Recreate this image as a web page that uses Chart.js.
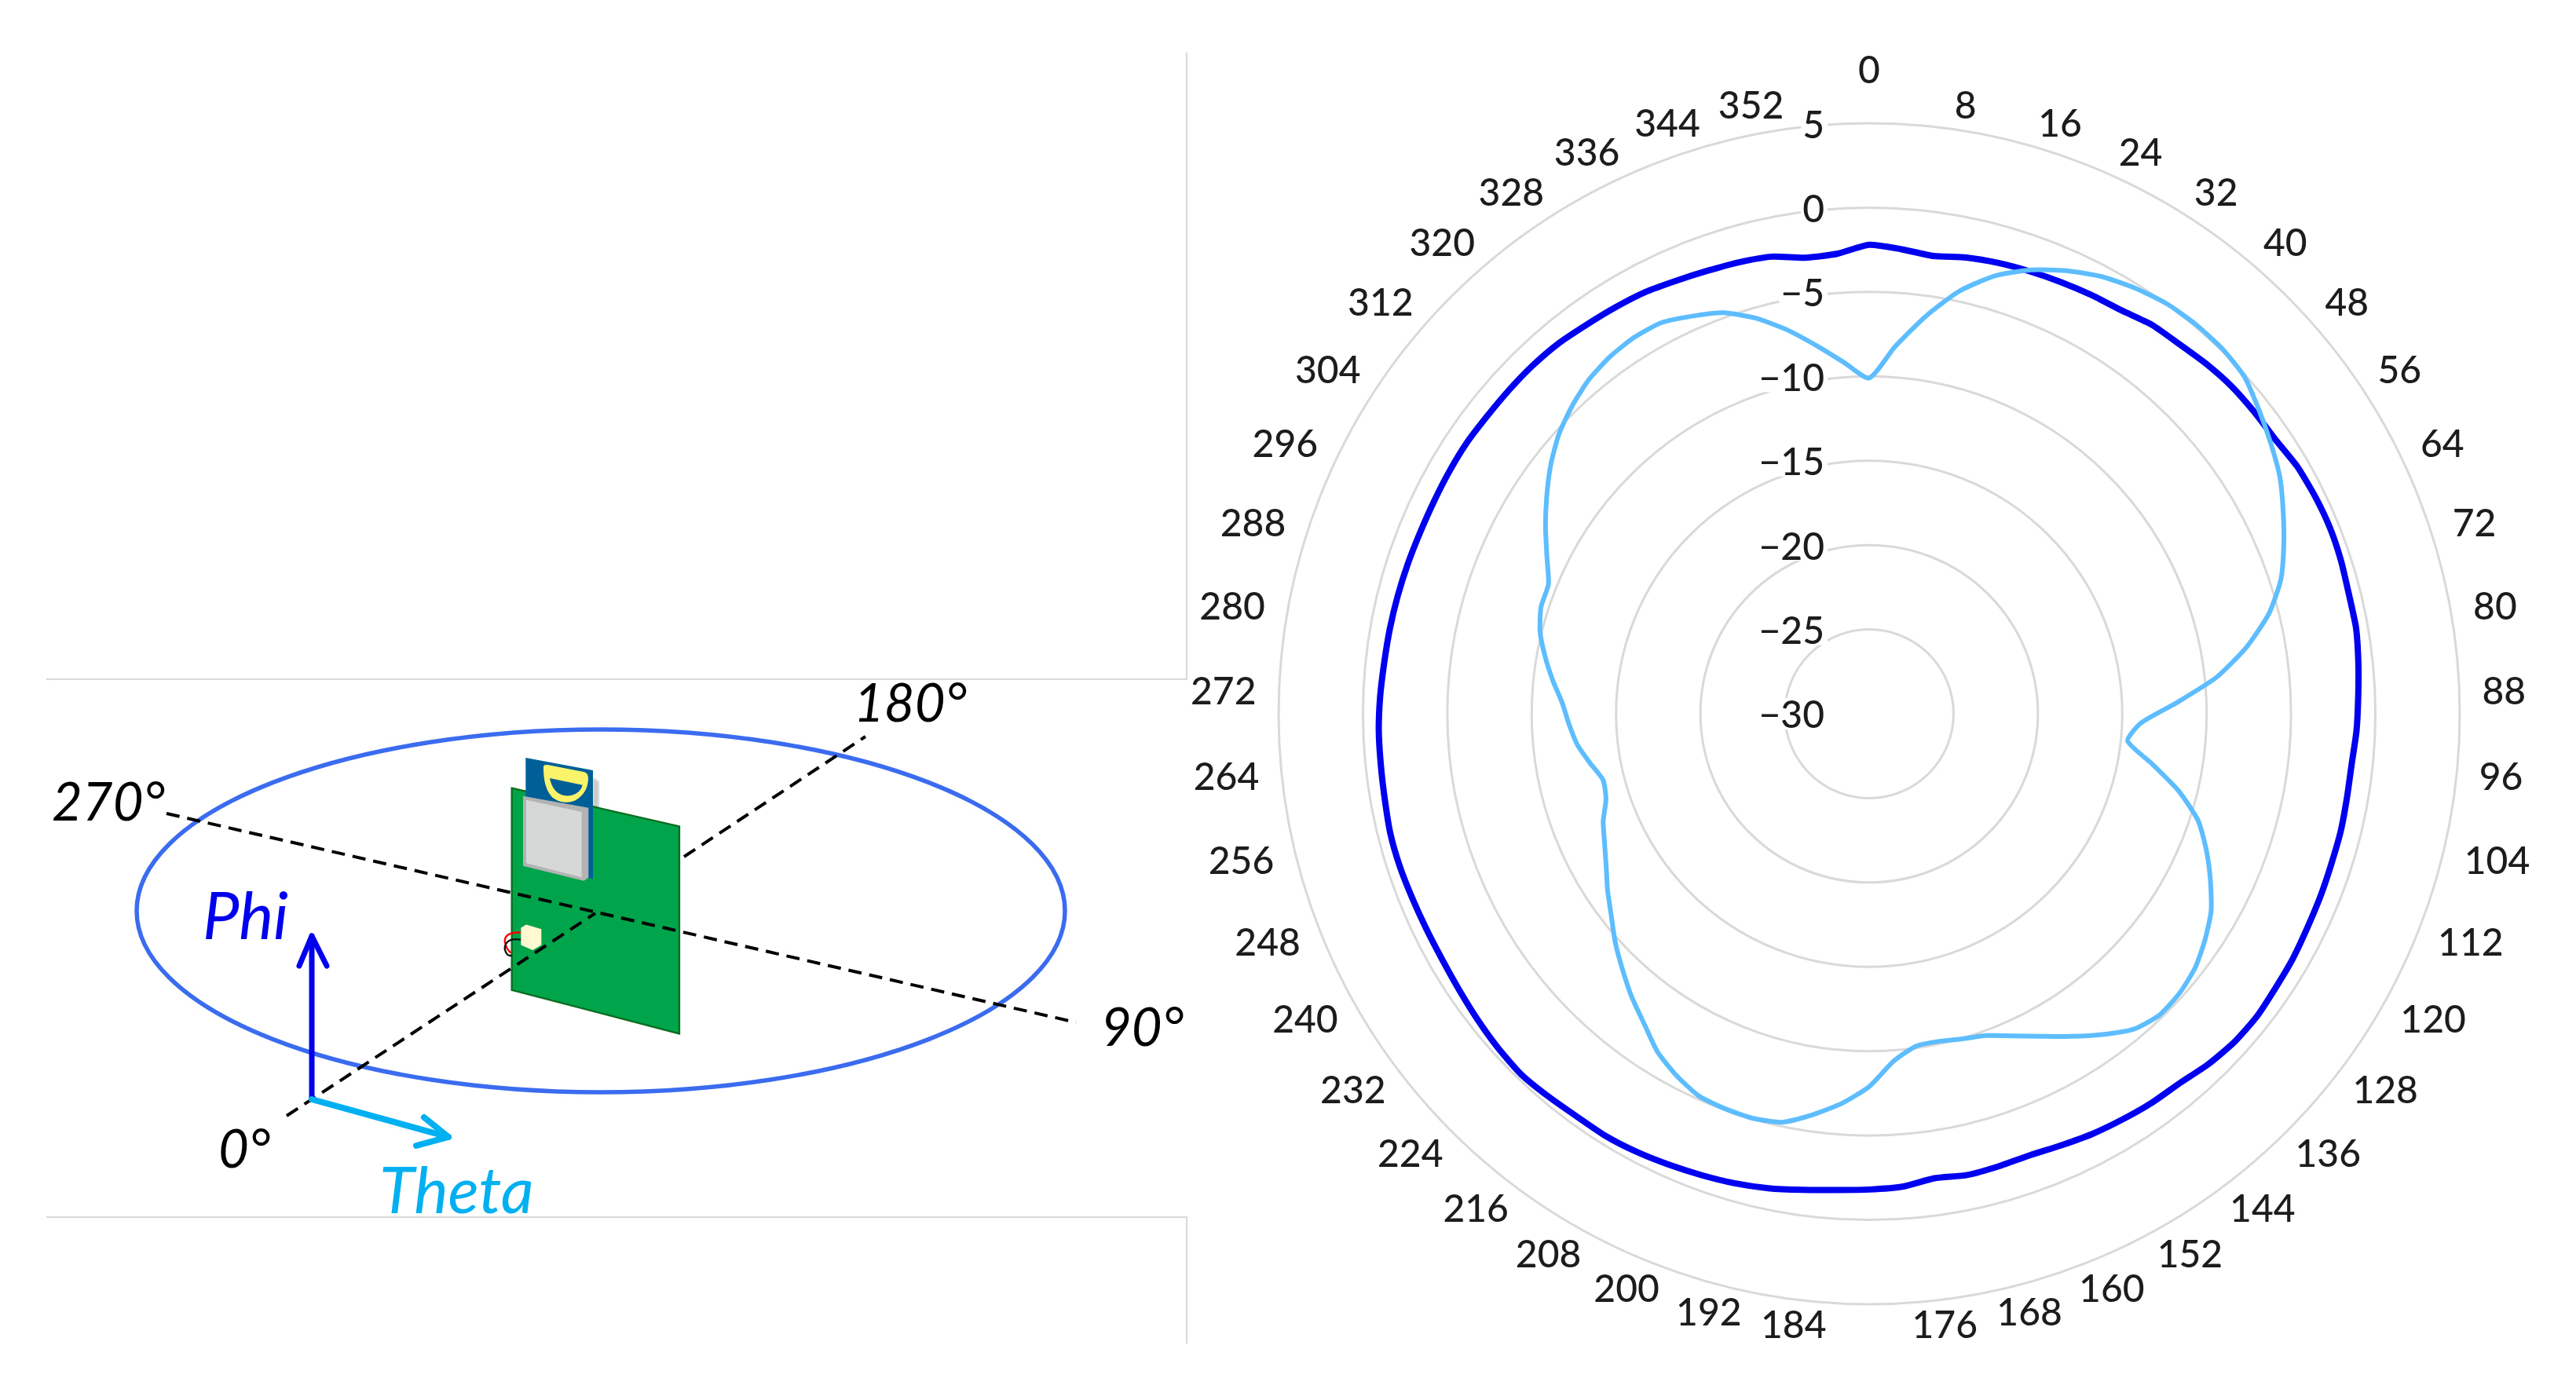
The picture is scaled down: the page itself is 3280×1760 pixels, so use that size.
<!DOCTYPE html>
<html><head><meta charset="utf-8">
<style>
html,body{margin:0;padding:0;background:#fff;width:3280px;height:1760px;overflow:hidden}
#diagram{position:absolute;left:0;top:0}
#wrap{position:absolute;left:1480px;top:0}
canvas{display:block}
</style>
<script src="https://cdn.jsdelivr.net/npm/chart.js@4"></script>
</head><body>
<svg id="diagram" width="3280" height="1760" xmlns="http://www.w3.org/2000/svg">
  <defs><filter id="soft"><feGaussianBlur stdDeviation="3"/></filter></defs>
  <g stroke="#d9d9d9" stroke-width="2" fill="none">
    <path d="M59 865H1511V67"/><path d="M59 1550H1511V1711"/>
  </g>
  <ellipse cx="765" cy="1160" rx="591" ry="231" fill="none" stroke="#3b6cf0" stroke-width="5.5"/>
  <g transform="translate(620,950) scale(.3333,.3356)">
    <path d="M405 120L428 135V232L405 240Z" fill="#aaa" opacity=".6" filter="url(#soft)"/>
    <path d="M95 160L735 305V1092L95 926Z" fill="#00a44a" stroke="#0a6e1e" stroke-width="7"/>
    <path d="M148 45L405 92V505L148 445Z" fill="#005f96"/>
    <path d="M216 80Q215 70 235 72L370 98Q388 102 387 125Q385 180 335 208Q290 225 250 195Q215 160 216 80Z" fill="#fbf36a"/>
    <path d="M240 122L365 148Q360 175 325 187Q285 195 262 170Q245 150 240 122Z" fill="#005f96"/>
    <path d="M138 190L388 235V500L370 512L138 455Z" fill="#b3b3b3"/>
    <path d="M150 205L362 250V498L150 445Z" fill="#d6d8d8"/>
    <path d="M130 708Q70 705 68 740Q72 770 92 785" fill="none" stroke="#f00" stroke-width="7"/>
    <path d="M130 735Q70 725 68 770Q75 800 95 795" fill="none" stroke="#111" stroke-width="7"/>
    <path d="M130 690L150 678L208 695V755L175 775L130 755Z" fill="#fff8d0"/>
  </g>
  <g stroke="#000" stroke-width="4" stroke-dasharray="17 10" fill="none">
    <path d="M212 1036L1370 1302"/>
    <path d="M365 1421L758 1163"/>
    <path d="M871 1091L1102 938"/>
  </g>
  <g fill="none" stroke="#0000ee" stroke-width="7" stroke-linecap="round" stroke-linejoin="round">
    <path d="M397 1400V1192"/><path d="M381 1230L397 1192L416 1230"/>
  </g>
  <g fill="none" stroke="#00b0f0" stroke-width="8" stroke-linecap="round" stroke-linejoin="round">
    <path d="M397 1400L571 1448"/><path d="M540 1423L571 1448L530 1459"/>
  </g>
  <g font-family="Lato" font-style="italic">
    <text x="258" y="1196" font-size="83" fill="#0000ee">Phi</text>
    <text x="483" y="1545" font-size="82" fill="#00b0f0">Theta</text>
    <g font-size="67" fill="#000">
      <text x="1087" y="919">180°</text>
      <text x="66" y="1045">270°</text>
      <text x="1402" y="1332">90°</text>
      <text x="278" y="1487">0°</text>
    </g>
  </g>
</svg>
<div id="wrap"><canvas id="c" width="1800" height="1818"></canvas></div>
<script>
const angleCategories = [0,4,8,12,16,20,24,28,32,36,40,44,48,52,56,60,64,68,72,76,80,84,88,92,96,100,104,108,112,116,120,124,128,132,136,140,144,148,152,156,160,164,168,172,176,180,184,188,192,196,200,204,208,212,216,220,224,228,232,236,240,244,248,252,256,260,264,268,272,276,280,284,288,292,296,300,304,308,312,316,320,324,328,332,336,340,344,348,352,356];
const phiValues = [-2.2,-2.4,-2.6,-2.35,-2.2,-2.1,-2.0,-1.9,-1.8,-1.5,-1.4,-1.2,-1.05,-1.0,-0.95,-0.7,-0.6,-0.55,-0.6,-0.7,-0.7,-0.85,-1.0,-1.1,-1.25,-1.25,-1.2,-1.2,-1.15,-1.1,-1.0,-0.95,-0.85,-0.9,-1.1,-1.4,-1.5,-1.65,-1.8,-2.0,-2.15,-2.1,-2.05,-2.2,-1.9,-1.8,-1.7,-1.5,-1.25,-1.05,-0.9,-0.75,-0.6,-0.5,-0.5,-0.4,-0.3,-0.4,-0.55,-0.7,-0.8,-0.82,-0.8,-0.75,-0.75,-0.85,-0.9,-0.92,-1.0,-1.1,-1.15,-1.2,-1.25,-1.3,-1.3,-1.27,-1.25,-1.3,-1.3,-1.3,-1.35,-1.5,-1.6,-1.7,-1.9,-2.05,-2.15,-2.3,-2.7,-2.67];
const thetaValues = [-10.1,-8.2,-6.25,-4.4,-3.0,-2.0,-1.25,-0.65,-0.25,0.03,0.12,0.1,-0.1,-0.7,-1.3,-1.9,-2.7,-3.5,-4.35,-5.6,-7.3,-9.3,-11.8,-13.9,-14.6,-13.0,-11.1,-9.5,-8.45,-7.5,-6.6,-6.0,-5.5,-5.25,-5.2,-5.6,-6.5,-7.45,-8.35,-9.1,-9.7,-9.95,-10.15,-10.1,-9.35,-7.9,-6.85,-6.0,-5.25,-5.05,-5.08,-5.2,-5.7,-6.35,-7.3,-8.1,-8.95,-9.75,-10.6,-11.3,-12.0,-12.55,-13.0,-13.6,-13.75,-13.2,-12.6,-12.2,-11.8,-11.15,-10.5,-9.9,-9.55,-9.5,-8.75,-7.85,-6.95,-6.05,-5.25,-4.65,-4.15,-3.85,-3.7,-3.75,-4.2,-4.7,-5.6,-6.75,-8.0,-9.15];
const axisMin = -30, axisMax = 5, axisStep = 5;
const labelStep = 8;

const uiFont = 'Lato';
const textColor = '#1c1c1c';
const wantedRadius = 752, centerX = 2380, centerY = 909;

const valueLabels = {
  id: 'valueLabels',
  beforeDatasetsDraw(chart) {
    const r = chart.scales.r, ctx = chart.ctx;
    ctx.save();
    ctx.font = '500 48px ' + uiFont;
    ctx.textAlign = 'right';
    ctx.textBaseline = 'middle';
    r.ticks.forEach(t => {
      const y = r.yCenter - r.getDistanceFromCenterForValue(t.value);
      const s = String(t.value).replace('-', '\u2212');
      const w = ctx.measureText(s).width;
      const xr = r.xCenter - 57;
      ctx.fillStyle = '#fff';
      ctx.fillRect(xr - w - 2, y - 20, w + 6, 40);
      ctx.fillStyle = textColor;
      ctx.fillText(s, xr, y + 3);
    });
    ctx.restore();
  }
};

const chart = new Chart(document.getElementById('c'), {
  type: 'radar',
  data: {
    labels: angleCategories,
    datasets: [
      {label: 'Theta', data: thetaValues, borderColor: '#5dbdff', borderWidth: 6, pointRadius: 0, fill: false, tension: 0.2},
      {label: 'Phi', data: phiValues, borderColor: '#0000f0', borderWidth: 8, pointRadius: 0, fill: false, tension: 0.2}
    ]
  },
  options: {
    responsive: false,
    animation: false,
    devicePixelRatio: 1,
    layout: {padding: 0},
    plugins: {legend: {display: false}, tooltip: {enabled: false}},
    scales: {
      r: {
        min: axisMin, max: axisMax,
        ticks: {stepSize: axisStep, display: false},
        angleLines: {display: false},
        grid: {circular: true, color: '#d9d9d9', lineWidth: 3},
        pointLabels: {
          display: true,
          color: textColor,
          font: {family: uiFont, size: 48, weight: '500', lineHeight: 0.001},
          padding: ctx => ctx.index === 0 ? 66 : 29,
          callback: v => (+v % labelStep === 0 ? String(v) : '')
        }
      }
    }
  },
  plugins: [valueLabels]
});

// settle the plot radius, then put its centre where the reference has it
for (let i = 0; i < 6; i++) {
  const d = chart.scales.r.drawingArea - wantedRadius;
  if (Math.abs(d) < 0.5) break;
  chart.options.layout.padding = Math.max(0, (chart.options.layout.padding || 0) + d);
  chart.update('none');
}
const wrap = document.getElementById('wrap');
wrap.style.left = (centerX - chart.scales.r.xCenter) + 'px';
wrap.style.top = (centerY - chart.scales.r.yCenter) + 'px';
</script>
</body></html>
